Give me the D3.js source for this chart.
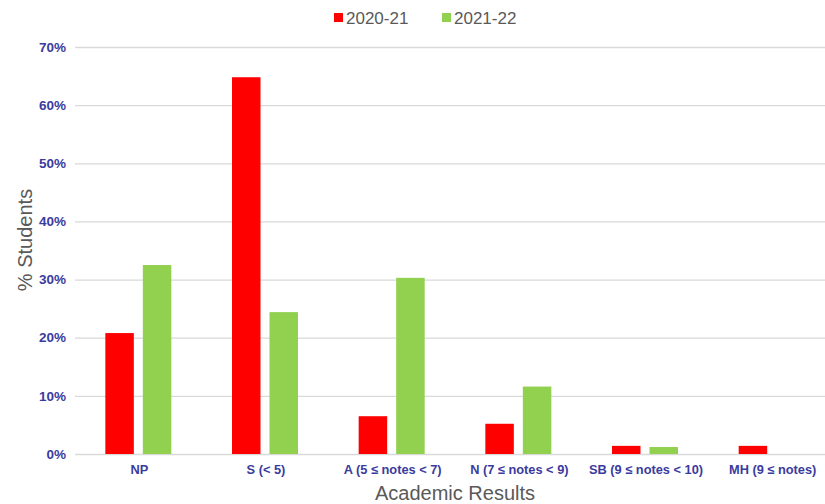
<!DOCTYPE html>
<html>
<head>
<meta charset="utf-8">
<script src="https://cdn.jsdelivr.net/npm/d3@7"></script>
<style>
  body { margin: 0; background: #fff; }
  svg { display: block; font-family: "Liberation Sans", Arial, sans-serif; }
</style>
</head>
<body>
<div id="chart"></div>
<script>
// data
var categories = ['NP', 'S (< 5)', 'A (5 ≤ notes < 7)', 'N (7 ≤ notes < 9)', 'SB (9 ≤ notes < 10)', 'MH (9 ≤ notes)'];
var series = ['2020-21', '2021-22'];
var values2020 = [20.8, 64.8, 6.5, 5.2, 1.4, 1.4];
var values2021 = [32.5, 24.4, 30.3, 11.6, 1.2, 0];
var yTicks = [0, 10, 20, 30, 40, 50, 60, 70];
var colors = ['#ff0000', '#92d050'];

var W = 825, H = 504;
var svg = d3.select('#chart').append('svg').attr('width', W).attr('height', H);

// plot area (right side runs past the picture edge, as in the source)
var areaLeft = 75, areaRight = 835, areaTop = 47, areaBottom = 454;

var x = d3.scaleBand().domain(categories).range([areaLeft, areaRight]).paddingInner(0).paddingOuter(0);
var x1 = d3.scaleBand().domain(series).range([0, 66]).paddingInner(0.24);
var y = d3.scaleLinear().domain([0, 70]).range([areaBottom, areaTop]);

// grid
svg.append('g').selectAll('line').data(yTicks).join('line')
  .attr('x1', areaLeft).attr('x2', areaRight)
  .attr('y1', d => y(d) + 0.5).attr('y2', d => y(d) + 0.5)
  .attr('stroke', '#d9d9d9').attr('stroke-width', 1.3);

// y tick labels
svg.append('g').selectAll('text').data(yTicks).join('text')
  .attr('x', 66).attr('y', d => y(d)).attr('dy', '0.35em')
  .attr('text-anchor', 'end')
  .attr('font-size', 13.5).attr('font-weight', 'bold').attr('fill', '#3b3b9e')
  .text(d => d + '%');

// bars
var rows = categories.map((c, i) => ({ cat: c, vals: [values2020[i], values2021[i]] }));
var groups = svg.append('g').selectAll('g').data(rows).join('g')
  .attr('transform', d => 'translate(' + (x(d.cat) + (x.bandwidth() - 66) / 2) + ',0)');
groups.selectAll('rect').data(d => d.vals.map((v, j) => ({ s: series[j], v: v, j: j })))
  .join('rect')
  .attr('x', d => x1(d.s))
  .attr('width', x1.bandwidth())
  .attr('y', d => y(d.v))
  .attr('height', d => y(0) - y(d.v))
  .attr('fill', d => colors[d.j]);

// x labels
svg.append('g').selectAll('text').data(categories).join('text')
  .attr('x', d => x(d) + x.bandwidth() / 2 + 1).attr('y', 470)
  .attr('dy', '0.35em').attr('text-anchor', 'middle')
  .attr('font-size', 12.8).attr('font-weight', 'bold').attr('fill', '#3b3b9e')
  .text(d => d);

// axis titles
svg.append('text').attr('x', 455).attr('y', 500).attr('text-anchor', 'middle')
  .attr('font-size', 20).attr('fill', '#595959').text('Academic Results');
svg.append('text').attr('transform', 'translate(32,240) rotate(-90)').attr('text-anchor', 'middle')
  .attr('font-size', 20).attr('fill', '#595959').text('% Students');

// legend
var legend = svg.append('g').selectAll('g').data(series).join('g')
  .attr('transform', (d, i) => 'translate(' + (334 + i * 108) + ',18)');
legend.append('rect').attr('x', 0).attr('y', -5).attr('width', 9).attr('height', 9)
  .attr('fill', (d, i) => colors[i]);
legend.append('text').attr('x', 12).attr('y', 0).attr('dy', '0.35em')
  .attr('font-size', 17).attr('fill', '#595959').text(d => d);
</script>
</body>
</html>
